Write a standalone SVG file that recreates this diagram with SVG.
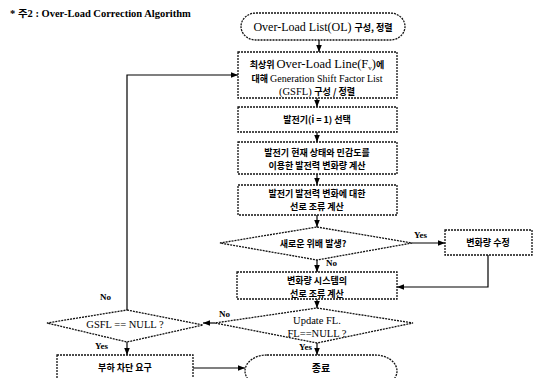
<svg xmlns="http://www.w3.org/2000/svg" width="537" height="378" viewBox="0 0 537 378">
<style>
.box{fill:#fff;stroke:#111;stroke-width:1.3;stroke-dasharray:2 1}
.t{font-family:"Liberation Serif","Noto Sans CJK KR",serif;fill:#000;text-anchor:middle}
.k{font-size:9px;font-family:"Noto Sans CJK KR","Liberation Sans",sans-serif;font-weight:bold}
.e{font-size:12px}
.lbl{font-family:"Liberation Serif",serif;font-weight:bold;font-size:9px;fill:#000}
.c{fill:none;stroke:#000;stroke-width:1.2}
</style>
<defs>
<marker id="a" viewBox="0 0 10 10" refX="10" refY="5" markerWidth="7" markerHeight="7" markerUnits="userSpaceOnUse" orient="auto">
<path d="M0,1 L10,5 L0,9 z" fill="#000"/>
</marker>
</defs>
<rect width="537" height="378" fill="#fff"/>
<text x="10" y="17" style="font-family:'Liberation Serif','Noto Sans CJK KR',serif;font-size:10.5px;font-weight:bold">* 주2 : Over-Load Correction Algorithm</text>

<g id="connectors">
<path class="c" d="M319,40 V52" marker-end="url(#a)"/>
<path class="c" d="M317,98 V107" marker-end="url(#a)"/>
<path class="c" d="M317,132 V142" marker-end="url(#a)"/>
<path class="c" d="M317,174 V185" marker-end="url(#a)"/>
<path class="c" d="M317,215 V227" marker-end="url(#a)"/>
<path class="c" d="M317,260 V272" marker-end="url(#a)"/>
<path class="c" d="M412,243 H445" marker-end="url(#a)"/>
<path class="c" d="M488,255 V287 H397" marker-end="url(#a)"/>
<path class="c" d="M317,299 V308" marker-end="url(#a)"/>
<path class="c" d="M215,323 H203" marker-end="url(#a)"/>
<path class="c" d="M317,343 V355" marker-end="url(#a)"/>
<path class="c" d="M127,310 V75 H238" marker-end="url(#a)"/>
<path class="c" d="M127,342 V355" marker-end="url(#a)"/>
<path class="c" d="M193,368 H245" marker-end="url(#a)"/>
<text x="414" y="238" class="lbl">Yes</text>
<text x="326" y="266" class="lbl">No</text>
<text x="219" y="317" class="lbl">No</text>
<text x="299" y="350" class="lbl">Yes</text>
<text x="100" y="300" class="lbl">No</text>
<text x="95" y="349" class="lbl">Yes</text>
</g>

<g id="start">
<rect class="box" x="241" y="13" width="164" height="27" rx="15" ry="13.5"/>
<text x="323" y="31" class="t"><tspan class="e">Over-Load List(OL) </tspan><tspan class="k">구성, 정렬</tspan></text>
</g>

<g id="gsfl-list">
<rect class="box" x="238" y="52" width="159" height="46"/>
<text x="317" y="68" class="t"><tspan class="k">최상위 </tspan><tspan style="font-size:12.5px">Over-Load Line(F</tspan><tspan style="font-size:7px" dy="2">v</tspan><tspan style="font-size:12.5px" dy="-2">)</tspan><tspan class="k">에</tspan></text>
<text x="317" y="82" class="t"><tspan class="k">대해 </tspan><tspan style="font-size:10px">Generation Shift Factor List</tspan></text>
<text x="317" y="95" class="t"><tspan style="font-size:10.5px">(GSFL) </tspan><tspan class="k">구성 / 정렬</tspan></text>
</g>

<g id="select-gen">
<rect class="box" x="238" y="107" width="159" height="25"/>
<text x="317" y="123" class="t k">발전기(i = 1) 선택</text>
</g>

<g id="gen-change">
<rect class="box" x="238" y="142" width="159" height="32"/>
<text x="317" y="155.5" class="t k">발전기 현재 상태와 민감도를</text>
<text x="317" y="168.5" class="t k">이용한 발전력 변화량 계산</text>
</g>

<g id="line-flow">
<rect class="box" x="238" y="185" width="159" height="30"/>
<text x="317" y="197" class="t k">발전기 발전력 변화에 대한</text>
<text x="317" y="210" class="t k">선로 조류 계산</text>
</g>

<g id="new-violation">
<polygon class="box" points="317,227 412,243 317,260 220,243"/>
<text x="313" y="247" class="t k">새로운 위배 발생?</text>
</g>

<g id="modify">
<rect class="box" x="445" y="230" width="87" height="25"/>
<text x="488" y="246" class="t k">변화량 수정</text>
</g>

<g id="sys-flow">
<rect class="box" x="237" y="272" width="160" height="27"/>
<text x="317" y="283.5" class="t k">변화량 시스템의</text>
<text x="317" y="296.5" class="t k">선로 조류 계산</text>
</g>

<g id="update-fl">
<polygon class="box" points="317,308 413,323 317,343 215,323"/>
<text x="317" y="324" class="t" style="font-size:10.5px">Update FL.</text>
<text x="317" y="337" class="t" style="font-size:10.5px">FL==NULL ?</text>
</g>

<g id="gsfl-null">
<polygon class="box" points="127,310 203,325 127,342 47,323"/>
<text x="125" y="328" class="t" style="font-size:10.5px">GSFL == NULL ?</text>
</g>

<g id="load-shed">
<rect class="box" x="57" y="355" width="136" height="30"/>
<text x="125" y="371" class="t k">부하 차단 요구</text>
</g>

<g id="end">
<rect class="box" x="245" y="355" width="152" height="32" rx="22" ry="16"/>
<text x="321" y="372" class="t k" style="font-size:10px">종료</text>
</g>
</svg>
